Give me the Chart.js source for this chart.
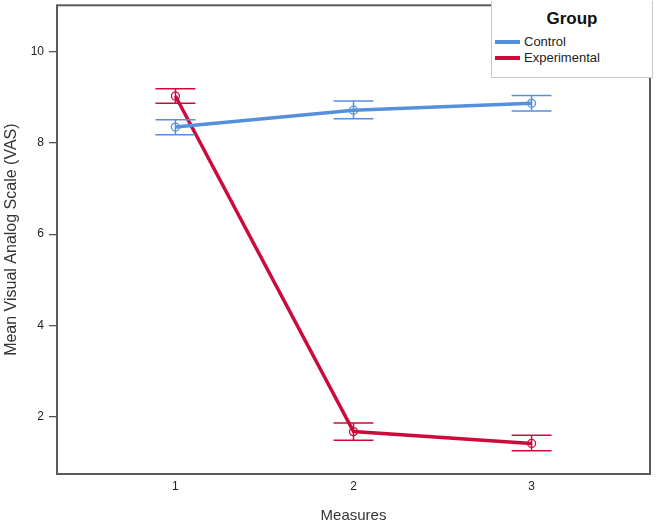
<!DOCTYPE html>
<html>
<head>
<meta charset="utf-8">
<script src="https://cdn.jsdelivr.net/npm/chart.js@4.4.0/dist/chart.umd.min.js"></script>
<style>
html,body{margin:0;padding:0;background:#fff;}
#wrap{position:relative;width:657px;height:522px;}
#legend{position:absolute;left:491px;top:1px;width:162px;height:77px;background:#fff;border:1px solid #c8c8c8;border-top:none;box-sizing:border-box;font-family:"Liberation Sans",Arial,sans-serif;}
#legend .title{position:absolute;left:0;width:100%;top:8px;text-align:center;font-weight:bold;font-size:17px;color:#111;}
#legend .item{position:absolute;left:3px;font-size:13px;color:#222;height:16px;line-height:16px;}
#legend .sw{display:inline-block;width:25px;height:4px;vertical-align:middle;margin-right:4px;position:relative;top:-1px;}
</style>
</head>
<body>
<div id="wrap">
<canvas id="c" width="657" height="522"></canvas>
<div id="legend">
  <div class="title">Group</div>
  <div class="item" style="top:33px"><span class="sw" style="background:#5590dc"></span>Control</div>
  <div class="item" style="top:49px"><span class="sw" style="background:#cc0a3c"></span>Experimental</div>
</div>
</div>
<script>
const measures = [1, 2, 3];
const controlMean = [8.35, 8.72, 8.87];
const controlLow  = [8.18, 8.53, 8.70];
const controlHigh = [8.51, 8.92, 9.04];
const expMean = [9.03, 1.67, 1.41];
const expLow  = [8.87, 1.48, 1.25];
const expHigh = [9.19, 1.86, 1.59];
const yTicks = [2, 4, 6, 8, 10];
const xTicks = [1, 2, 3];

const blue = '#5590dc';
const red = '#cc0a3c';

function pts(means){ return measures.map((m,i)=>({x:m, y:means[i]})); }

const errorBars = {
  id:'errorBars',
  afterDatasetsDraw(chart){
    const ctx = chart.ctx;
    const xs = chart.scales.x, ys = chart.scales.y;
    const sets = [[controlLow, controlHigh, blue],[expLow, expHigh, red]];
    ctx.save();
    sets.forEach(([lo, hi, col])=>{
      ctx.strokeStyle = col;
      ctx.lineWidth = 1.5;
      measures.forEach((m,i)=>{
        const x = xs.getPixelForValue(m);
        const x0 = xs.getPixelForValue(m - 0.112);
        const x1 = xs.getPixelForValue(m + 0.112);
        const yl = ys.getPixelForValue(lo[i]);
        const yh = ys.getPixelForValue(hi[i]);
        ctx.beginPath();
        ctx.moveTo(x, yl); ctx.lineTo(x, yh);
        ctx.moveTo(x0, yl); ctx.lineTo(x1, yl);
        ctx.moveTo(x0, yh); ctx.lineTo(x1, yh);
        ctx.stroke();
      });
    });
    ctx.restore();
  }
};

const frame = {
  id:'frame',
  afterDraw(chart){
    const a = chart.chartArea, ctx = chart.ctx;
    ctx.save();
    ctx.strokeStyle = '#5a5a5a';
    ctx.lineWidth = 2;
    ctx.strokeRect(a.left, a.top, a.right - a.left, a.bottom - a.top);
    ctx.restore();
  }
};

new Chart(document.getElementById('c'), {
  type:'line',
  data:{
    datasets:[
      {label:'Control', data:pts(controlMean), borderColor:blue, borderWidth:3.5,
       pointRadius:4, pointBorderWidth:1.3, pointBackgroundColor:'rgba(0,0,0,0)', pointBorderColor:blue, tension:0},
      {label:'Experimental', data:pts(expMean), borderColor:red, borderWidth:3.5,
       pointRadius:4, pointBorderWidth:1.3, pointBackgroundColor:'rgba(0,0,0,0)', pointBorderColor:red, tension:0}
    ]
  },
  options:{
    responsive:false,
    animation:false,
    layout:{padding:{top:0, right:7, left:0, bottom:0}},
    plugins:{legend:{display:false}, tooltip:{enabled:false}},
    scales:{
      x:{
        type:'linear', min:0.335, max:3.665,
        afterBuildTicks(s){ s.ticks = xTicks.map(v=>({value:v})); },
        afterFit(s){ s.height = 48; s.paddingLeft = 0; s.paddingRight = 0; },
        grid:{display:false, drawTicks:false},
        border:{display:false},
        ticks:{font:{family:'"Liberation Sans", Arial, sans-serif', size:12}, color:'#222', padding:5, maxRotation:0},
        title:{display:true, text:'Measures', font:{family:'"Liberation Sans", Arial, sans-serif', size:15}, color:'#333', padding:{top:8,bottom:-3}}
      },
      y:{
        type:'linear', min:0.74, max:11.02,
        afterBuildTicks(s){ s.ticks = yTicks.map(v=>({value:v})); },
        afterFit(s){ s.width = 57; s.paddingTop = 0; s.paddingBottom = 0; },
        grid:{drawOnChartArea:false, drawTicks:true, tickLength:8, color:'#555', lineWidth:1.3},
        border:{display:false},
        ticks:{font:{family:'"Liberation Sans", Arial, sans-serif', size:12}, color:'#222', padding:5},
        title:{display:true, text:'Mean Visual Analog Scale (VAS)', font:{family:'"Liberation Sans", Arial, sans-serif', size:16}, color:'#333', padding:{top:2,bottom:3}}
      }
    }
  },
  plugins:[errorBars, frame]
});
</script>
</body>
</html>
